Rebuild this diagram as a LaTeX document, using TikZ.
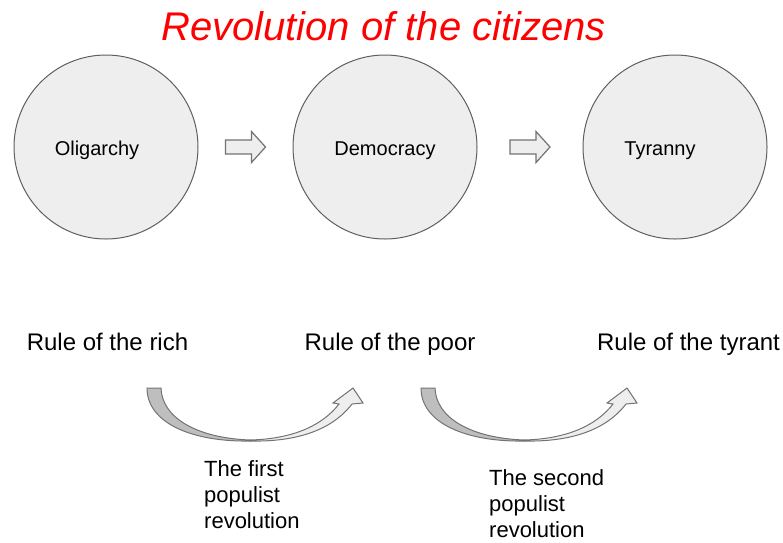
\documentclass[tikz,border=0pt]{standalone}
\usepackage{fontspec}
\setmainfont{Liberation Sans}
\usetikzlibrary{calc, positioning}
\definecolor{titlered}{RGB}{255,0,0}
\definecolor{stagefill}{RGB}{238,238,238}
\definecolor{stageline}{RGB}{95,95,95}
\definecolor{ribbondark}{RGB}{190,190,190}
\definecolor{ribbonlight}{RGB}{238,238,238}
\definecolor{ribbonline}{RGB}{115,115,115}
\tikzset{
  pics/blockarrow/.style={code={
    \draw[draw=ribbonline, fill=stagefill, line width=1.2pt]
      (-20,-7) -- (6,-7) -- (6,-15.5) -- (20,0) -- (6,15.5) -- (6,7) -- (-20,7) -- cycle;
  }},
  pics/revarrow/.style={code={
    \draw[draw=ribbonline, fill=ribbondark, line width=1pt]
      (0,0) -- (14,0) .. controls (15,30) and (50,50) .. (103,52)
      -- (103,53) .. controls (45,54) and (0,35) .. (0,0) -- cycle;
    \draw[draw=ribbonline, fill=ribbonlight, line width=1pt]
      (103,53) .. controls (150,54) and (185,42) .. (205,16)
      -- (216,15) -- (206,0) -- (186,15) -- (192,16)
      .. controls (175,38) and (145,51) .. (103,52) -- cycle;
  }},
}

\begin{document}
\begin{tikzpicture}[
  x=1pt, y=-1pt,
  stage/.style={
    circle, draw=stageline, fill=stagefill, line width=1pt,
    minimum size=184pt, inner sep=0pt
  },
  stagetext/.style={anchor=base, font=\fontsize{20}{24}\selectfont},
  rule/.style={anchor=base, font=\fontsize{24}{28}\selectfont},
  revtext/.style={
    anchor=north west, inner sep=0pt, align=left,
    font=\fontsize{22}{26}\selectfont
  },
  headline/.style={anchor=base, font=\fontsize{40}{48}\selectfont\itshape, text=titlered}
]
\useasboundingbox (0,0) rectangle (783,542);

% ---- Title ----
\node[headline] (title) at (383.5,40) {Revolution of the citizens};

% ---- The three forms of rule ----
\node[stage] (olig) at (106,147) {};
\node[stage] (demo) at (385,147) {};
\node[stage] (tyr)  at (675,147) {};
\node[stagetext] (oligtxt) at (97,155)  {Oligarchy};
\node[stagetext] (demotxt) at (385,155) {Democracy};
\node[stagetext] (tyrtxt)  at (660,155) {Tyranny};

% ---- Block arrows between the circles ----
\pic at ($(olig.east)!0.5!(demo.west)$) {blockarrow};
\pic at ($(demo.east)!0.5!(tyr.west)$) {blockarrow};

% ---- Who rules ----
\node[rule] (rich)   at (107.5,350) {Rule of the rich};
\node[rule] (poor)   at (390,350)   {Rule of the poor};
\node[rule] (tyrant) at (688.5,350) {Rule of the tyrant};

% ---- Populist revolutions ----
\coordinate (rev1) at (147,388);
\coordinate (rev2) at (421,388);
\pic at (rev1) {revarrow};
\pic at (rev2) {revarrow};

\node[revtext] (first)  at (204,460) {The first\\populist\\revolution};
\node[revtext] (second) at (489,469) {The second\\populist\\revolution};

\end{tikzpicture}
\end{document}
